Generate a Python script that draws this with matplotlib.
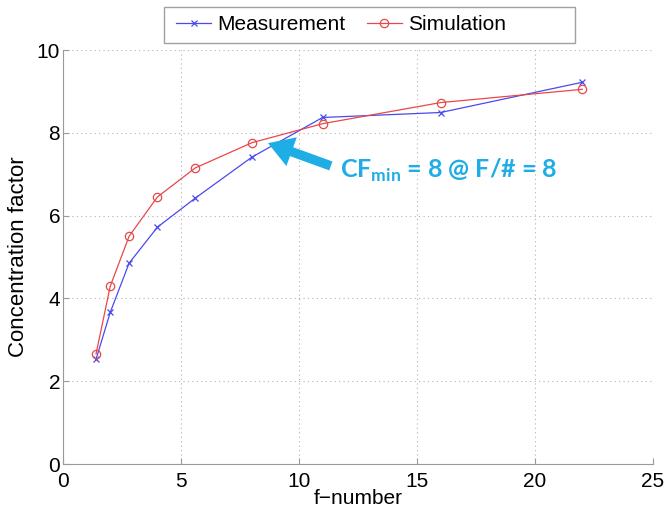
import matplotlib
matplotlib.use("Agg")
import matplotlib.pyplot as plt
from matplotlib.patches import Rectangle

f_number = [1.4, 2, 2.8, 4, 5.6, 8, 11, 16, 22]
measurement = [2.53, 3.66, 4.85, 5.72, 6.42, 7.41, 8.37, 8.49, 9.22]
simulation = [2.66, 4.29, 5.50, 6.45, 7.15, 7.76, 8.22, 8.73, 9.05]

x_ticks = [0, 5, 10, 15, 20, 25]
y_ticks = [0, 2, 4, 6, 8, 10]

plt.rcParams["font.family"] = ["Liberation Sans", "DejaVu Sans"]
plt.rcParams["mathtext.fontset"] = "custom"
plt.rcParams["mathtext.rm"] = "Lato"
plt.rcParams["mathtext.bf"] = "Lato:bold"

W, H = 667, 511
fig = plt.figure(figsize=(W / 100, H / 100), dpi=100)
ax = fig.add_axes([63 / W, 47 / H, 590 / W, 414 / H])

ax.plot(f_number, measurement, color="#4a4aee", lw=0.9, marker="x", ms=5,
        mew=0.9, label="Measurement")
ax.plot(f_number, simulation, color="#e84848", lw=0.9, marker="o", ms=6,
        mfc="none", mew=0.9, label="Simulation")

ax.set_xlim(0, 25)
ax.set_ylim(0, 10)
ax.set_xticks(x_ticks)
ax.set_yticks(y_ticks)
ax.grid(True, ls=(0, (1, 3)), color="#b0b0b0", lw=0.8)
for side in ("top", "right"):
    ax.spines[side].set_visible(False)
for side in ("left", "bottom"):
    ax.spines[side].set_color("#9a9a9a")
ax.tick_params(direction="in", length=4, color="#9a9a9a", labelsize=15)
ax.tick_params(axis="x", pad=6)
ax.tick_params(axis="y", pad=2)
ax.set_xlabel("f\u2212number", fontsize=15, labelpad=-2)
ax.set_ylabel("Concentration factor", fontsize=16, labelpad=6)

# legend, with the wide MATLAB-style box drawn separately
fig.legend(loc="center left", bbox_to_anchor=(176 / W, 1 - 25 / H),
           ncol=2, fontsize=15, frameon=False, handlelength=1.7,
           columnspacing=1.0, borderpad=0, handletextpad=0.3,
           borderaxespad=0)
fig.patches.append(Rectangle((164 / W, 1 - 43 / H), 411 / W, 36 / H,
                             transform=fig.transFigure, fill=False,
                             edgecolor="#a0a0a0", lw=1.0))

blue = "#1eade5"
ax.annotate("", xy=(8.69, 7.75), xytext=(11.35, 7.2),
            arrowprops=dict(arrowstyle="simple,head_length=0.9,head_width=1.1,tail_width=0.34",
                            mutation_scale=20, color=blue, lw=0,
                            shrinkA=0, shrinkB=0))
ax.text(11.75, 7.08, r"CF$_\mathbf{min}$ = 8 @ F/# = 8", color=blue,
        fontsize=18, fontweight="bold", family="Lato", va="center")

fig.savefig("out.png", dpi=100)
